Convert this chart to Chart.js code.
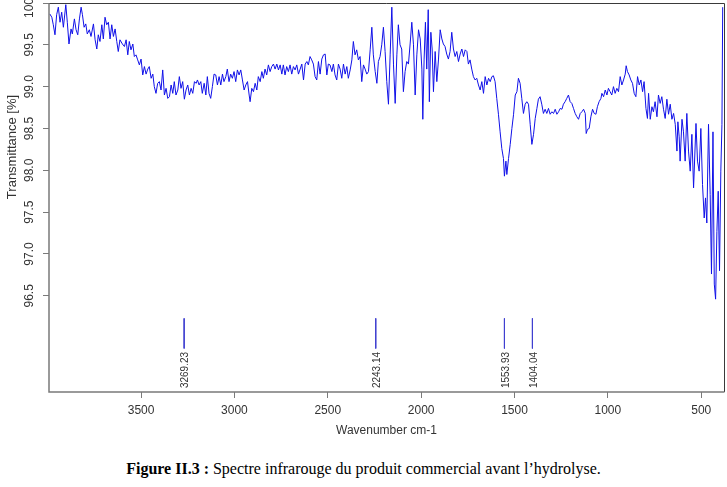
<!DOCTYPE html>
<html>
<head>
<meta charset="utf-8">
<script src="https://cdn.jsdelivr.net/npm/chart.js@4"></script>
<style>
  body { margin: 0; background: #fff; }
  #wrap { position: relative; width: 727px; height: 487px; }
  #caption {
    position: absolute; left: 0; top: 459px; width: 727px;
    text-align: center; font-family: "Liberation Serif", "Times New Roman", serif;
    font-size: 16px; line-height: 20px; color: #000;
  }
</style>
</head>
<body>
<div id="wrap">
  <canvas id="myChart" width="727" height="445"></canvas>
  <div id="caption"><b>Figure II.3 :</b> Spectre infrarouge du produit commercial avant l’hydrolyse.</div>
</div>
<script>
// --- Spectrum data ---
const wavenumbers = [
  3989, 3978, 3970, 3961, 3952, 3943, 3934, 3925, 3916, 3903, 3895, 3886, 3875, 3868, 3857, 3848,
  3839, 3830, 3821, 3814, 3805, 3796, 3788, 3777, 3768, 3755, 3746, 3737, 3729, 3720, 3710, 3702,
  3693, 3684, 3675, 3666, 3657, 3648, 3639, 3630, 3622, 3613, 3600, 3589, 3580, 3571, 3563, 3554,
  3544, 3536, 3527, 3518, 3509, 3500, 3491, 3482, 3473, 3464, 3456, 3446, 3437, 3429, 3420, 3411,
  3402, 3393, 3384, 3375, 3366, 3357, 3348, 3339, 3330, 3322, 3313, 3303, 3295, 3286, 3277, 3268,
  3259, 3250, 3241, 3232, 3223, 3214,
  3205, 3198, 3189, 3180, 3172, 3162, 3153, 3145, 3136, 3127, 3118, 3109, 3100, 3091, 3082, 3073,
  3064, 3056, 3046, 3038, 3029, 3020, 3011, 3002, 2993, 2984, 2975, 2966, 2957, 2948, 2939, 2930,
  2921, 2916, 2907, 2898, 2889, 2880, 2872, 2862, 2853, 2845, 2836, 2827, 2818, 2809, 2800, 2791,
  2782, 2773, 2764, 2755, 2746, 2738, 2729, 2720, 2711, 2702, 2693, 2684, 2675, 2666, 2657, 2648,
  2639, 2630, 2621, 2612, 2604, 2595, 2586, 2577, 2568, 2559, 2550, 2541, 2532, 2523, 2514, 2505,
  2497, 2488, 2478, 2470, 2461, 2452, 2443, 2434,
  2425, 2416, 2407, 2398, 2390, 2380, 2371, 2363, 2354, 2345, 2336, 2327, 2318, 2309, 2300, 2291,
  2282, 2273, 2264, 2256, 2246, 2237, 2229, 2220, 2211, 2202, 2193, 2184, 2175, 2166, 2157, 2148,
  2139, 2130, 2122, 2113, 2104, 2095, 2086, 2077, 2068, 2059, 2050, 2041, 2032, 2023, 2014, 2005,
  1996, 1991, 1984, 1977, 1970, 1962, 1956, 1948, 1941, 1934, 1925, 1916, 1907, 1898, 1889, 1881,
  1872, 1863, 1854, 1845, 1836, 1827, 1818, 1809, 1800, 1791, 1782, 1773, 1764, 1755, 1747, 1738,
  1729, 1720, 1711, 1702, 1693, 1684,
  1675, 1666, 1657, 1648, 1639, 1630, 1621, 1613, 1604, 1595, 1586, 1577, 1568, 1559, 1554, 1546,
  1541, 1532, 1523, 1514, 1505, 1496, 1487, 1479, 1470, 1461, 1452, 1443, 1434, 1425, 1416, 1407,
  1398, 1389, 1380, 1372, 1363, 1354, 1345, 1336, 1327, 1318, 1309, 1300, 1291, 1282, 1273, 1264,
  1255, 1246, 1238, 1229, 1220, 1211, 1202, 1193, 1184, 1175, 1166, 1157, 1148, 1139, 1130, 1121,
  1116, 1109, 1100, 1091, 1082, 1073, 1064, 1056, 1047,
  1037, 1032, 1023, 1014, 1005, 997, 988, 979, 970, 961, 952, 943, 934, 925, 916, 907,
  902, 895, 886, 877, 868, 859, 850, 841, 832, 823, 814, 806, 796, 788, 782, 773,
  764, 756, 747, 737, 729, 720, 711, 702, 693, 684, 675, 666, 657, 648, 639, 630,
  625, 618, 613, 603, 595, 586, 577, 568, 559, 550, 541, 528, 520, 511, 502, 493,
  484, 477, 470, 461, 452, 445, 437, 430, 423, 416, 409, 402, 395, 389, 385
];

const transmittance = [
  99.87, 99.83, 99.74, 99.62, 99.86, 99.95, 99.77, 99.89, 99.71, 99.98, 99.77, 99.51, 99.69, 99.63, 99.81, 99.68,
  99.62, 99.81, 99.95, 99.86, 99.71, 99.75, 99.63, 99.68, 99.60, 99.75, 99.56, 99.45, 99.62, 99.54, 99.74, 99.57,
  99.83, 99.74, 99.77, 99.57, 99.74, 99.60, 99.69, 99.54, 99.42, 99.56, 99.51, 99.48, 99.56, 99.38, 99.54, 99.44,
  99.51, 99.36, 99.38, 99.32, 99.26, 99.33, 99.14, 99.24, 99.15, 99.21, 99.24, 99.10, 99.15, 99.00, 98.92, 99.04,
  99.06, 98.96, 99.20, 98.90, 98.98, 98.86, 98.88, 99.02, 98.92, 99.06, 98.90, 98.96, 99.12, 98.98, 99.06, 98.85,
  98.96, 99.02, 98.90, 98.98, 98.92, 99.06,
  99.04, 99.08, 99.02, 99.06, 98.92, 99.04, 98.90, 99.12, 98.92, 98.86, 99.00, 99.15, 99.14, 99.02, 99.12, 99.02,
  99.15, 99.06, 99.12, 99.21, 99.06, 99.15, 99.10, 99.18, 99.06, 99.20, 99.14, 99.20, 99.08, 98.96, 99.02, 99.06,
  98.90, 98.82, 98.98, 98.94, 99.04, 98.96, 99.12, 99.06, 99.18, 99.10, 99.21, 99.14, 99.26, 99.18, 99.24, 99.27,
  99.21, 99.27, 99.20, 99.26, 99.15, 99.26, 99.14, 99.24, 99.18, 99.26, 99.15, 99.24, 99.20, 99.26, 99.15, 99.21,
  99.27, 99.08, 99.27, 99.30, 99.26, 99.36, 99.32, 99.27, 99.12, 99.08, 99.30, 99.15, 99.33, 99.38, 99.39, 99.14,
  99.27, 99.26, 99.18, 99.27, 99.14, 99.08, 99.27, 99.21,
  99.10, 99.27, 99.15, 99.24, 99.10, 99.20, 99.32, 99.54, 99.38, 99.44, 99.32, 99.36, 99.06, 99.26, 99.21, 99.15,
  99.18, 99.44, 99.71, 99.38, 99.18, 99.04, 99.30, 99.36, 99.50, 99.71, 99.42, 99.06, 98.79, 99.38, 99.95, 99.26,
  98.80, 99.38, 99.74, 99.50, 99.45, 98.94, 99.18, 99.30, 99.27, 99.51, 99.77, 99.50, 98.90, 99.38, 99.68, 99.57,
  99.21, 98.61, 99.33, 99.77, 99.21, 99.92, 98.82, 99.65, 99.45, 98.94, 99.42, 99.06, 99.33, 99.68, 99.57, 99.51,
  99.48, 99.39, 99.33, 99.42, 99.65, 99.45, 99.36, 99.42, 99.30, 99.39, 99.45, 99.36, 99.44, 99.42, 99.27, 99.32,
  99.21, 99.12, 99.08, 99.10, 99.02, 98.96,
  99.06, 98.92, 99.12, 99.02, 99.10, 99.06, 99.12, 99.13, 99.06, 98.86, 98.67, 98.46, 98.26, 98.14, 97.93, 98.11,
  97.95, 98.14, 98.31, 98.50, 98.67, 98.90, 98.94, 99.10, 99.04, 98.86, 98.68, 98.79, 98.82, 98.79, 98.55, 98.31,
  98.43, 98.62, 98.74, 98.85, 98.88, 98.79, 98.68, 98.73, 98.68, 98.74, 98.67, 98.70, 98.68, 98.73, 98.67, 98.70,
  98.74, 98.73, 98.79, 98.82, 98.86, 98.90, 98.82, 98.80, 98.74, 98.68, 98.64, 98.61, 98.68, 98.70, 98.73, 98.68,
  98.44, 98.49, 98.50, 98.64, 98.73, 98.68, 98.67, 98.76, 98.82,
  98.86, 98.92, 98.88, 98.96, 98.90, 98.98, 98.94, 98.90, 99.00, 98.92, 98.98, 98.94, 99.12, 99.02, 99.08, 99.15,
  99.25, 99.18, 99.14, 99.08, 99.04, 98.92, 98.88, 99.12, 99.02, 99.08, 98.94, 99.06, 98.74, 98.62, 98.92, 98.61,
  98.76, 98.70, 98.82, 98.64, 98.90, 98.80, 98.88, 98.73, 98.62, 98.85, 98.67, 98.79, 98.61, 98.68, 98.55, 98.23,
  98.58, 98.40, 98.11, 98.61, 98.46, 98.11, 98.68, 98.23, 97.99, 98.43, 97.79, 98.56, 98.11, 97.99, 98.50, 97.83,
  97.43, 97.67, 97.37, 98.55, 97.71, 96.76, 98.46, 96.64, 96.46, 97.27, 97.75, 96.80, 97.99, 98.55, 99.95
];

// marked peaks
const peakPositions = [3269.23, 2243.14, 1553.93, 1404.04];
const peakLabels = ['3269.23', '2243.14', '1553.93', '1404.04'];
const peakTop = 96.23;
const peakBottom = 95.87;

// axes
const xTickValues = [3500, 3000, 2500, 2000, 1500, 1000, 500];
const yTickValues = [96.5, 97.0, 97.5, 98.0, 98.5, 99.0, 99.5, 100.0];
const xRange = [378, 3993];
const yRange = [95.35, 100.0];

const spectrumPoints = wavenumbers.map((w, i) => ({ x: w, y: transmittance[i] }));
const peakPoints = [];
peakPositions.forEach(p => {
  peakPoints.push({ x: p, y: peakTop }, { x: p, y: peakBottom }, { x: p, y: null });
});

// draws the R-style box, rotated labels and titles
const rStylePlugin = {
  id: 'rStyle',
  afterDraw(chart) {
    const ctx = chart.ctx;
    const area = chart.chartArea;
    const xs = chart.scales.x;
    const ys = chart.scales.y;
    ctx.save();

    // box
    ctx.lineWidth = 1;
    ctx.strokeStyle = '#3a3a3a';
    ctx.beginPath();
    ctx.moveTo(area.left, area.top + 0.5);
    ctx.lineTo(area.right + 0.5, area.top + 0.5);
    ctx.lineTo(area.right + 0.5, area.bottom);
    ctx.stroke();
    ctx.strokeStyle = '#7a7a7a';
    ctx.lineWidth = 1.5;
    ctx.beginPath();
    ctx.moveTo(area.left, area.top);
    ctx.lineTo(area.left, area.bottom);
    ctx.lineTo(area.right + 0.5, area.bottom);
    ctx.stroke();

    ctx.fillStyle = '#333';
    ctx.font = '12px "Liberation Sans", Arial, sans-serif';
    ctx.textAlign = 'center';
    ctx.textBaseline = 'middle';

    // x tick labels
    xTickValues.forEach(v => {
      ctx.fillText(String(v), xs.getPixelForValue(v), 411);
    });

    // y tick labels, rotated like R
    yTickValues.forEach(v => {
      ctx.save();
      ctx.translate(30, ys.getPixelForValue(v));
      ctx.rotate(-Math.PI / 2);
      ctx.fillText(v.toFixed(1), 0, 0);
      ctx.restore();
    });

    // axis titles
    ctx.fillText('Wavenumber cm-1', (area.left + area.right) / 2, 431);
    ctx.save();
    ctx.translate(12, 147);
    ctx.rotate(-Math.PI / 2);
    ctx.font = '13px "Liberation Sans", Arial, sans-serif';
    ctx.fillText('Transmittance [%]', 0, 0);
    ctx.restore();

    // peak labels
    ctx.font = '10px "Liberation Sans", Arial, sans-serif';
    peakPositions.forEach((p, i) => {
      ctx.save();
      ctx.translate(xs.getPixelForValue(p) + 1.5, 370);
      ctx.rotate(-Math.PI / 2);
      ctx.fillText(peakLabels[i], 0, 0);
      ctx.restore();
    });

    ctx.restore();
  }
};

function renderChart() {
  const ctx = document.getElementById('myChart').getContext('2d');

  const chartConfig = {
    type: 'line',
    data: {
      datasets: [
        {
          data: spectrumPoints,
          borderColor: '#1010e8',
          borderWidth: 1,
          pointRadius: 0,
          tension: 0,
          fill: false
        },
        {
          data: peakPoints,
          borderColor: '#4040d0',
          borderWidth: 1,
          pointRadius: 0,
          spanGaps: false,
          fill: false
        }
      ]
    },
    options: {
      responsive: false,
      animation: false,
      devicePixelRatio: 1,
      layout: { padding: { top: 3, right: 3, left: 0, bottom: 0 } },
      plugins: {
        legend: { display: false },
        tooltip: { enabled: false }
      },
      scales: {
        x: {
          type: 'linear',
          reverse: true,
          min: xRange[0],
          max: xRange[1],
          afterBuildTicks: axis => { axis.ticks = xTickValues.map(v => ({ value: v })); },
          afterFit: scale => { scale.height = 53; },
          ticks: { display: false },
          border: { display: false },
          grid: { drawOnChartArea: false, drawTicks: true, tickLength: 6, color: '#7a7a7a', lineWidth: 1 }
        },
        y: {
          min: yRange[0],
          max: yRange[1],
          afterBuildTicks: axis => { axis.ticks = yTickValues.map(v => ({ value: v })); },
          afterFit: scale => { scale.width = 49; },
          ticks: { display: false },
          border: { display: false },
          grid: { drawOnChartArea: false, drawTicks: true, tickLength: 6, color: '#7a7a7a', lineWidth: 1 }
        }
      }
    },
    plugins: [rStylePlugin]
  };

  new Chart(ctx, chartConfig);
}

renderChart();
</script>
</body>
</html>
